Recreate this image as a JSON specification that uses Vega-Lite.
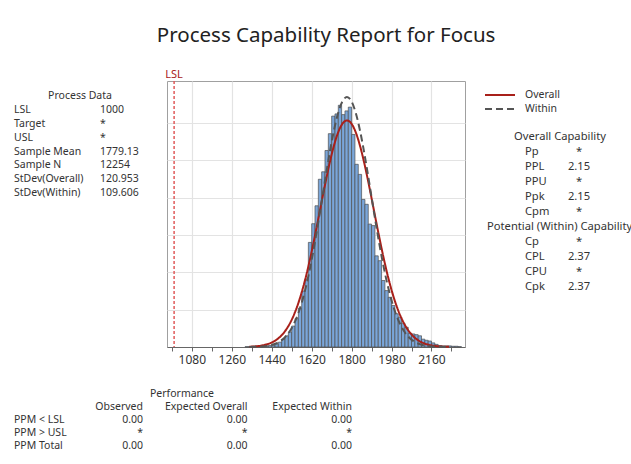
{
  "$schema": "https://vega.github.io/schema/vega-lite/v6.json",
  "background": "white",
  "padding": {"top": 26, "left": 0, "right": 0, "bottom": 0},
  "spacing": 0,
  "title": {"text": "Process Capability Report for Focus", "fontSize": 20.5, "font": "Noto Sans", "fontWeight": "normal", "color": "#222", "offset": 22, "anchor": "middle", "dx": 10},
  "config": {
    "view": {"stroke": null},
    "font": "Noto Sans",
    "text": {"font": "Noto Sans", "fontSize": 10.5, "color": "#333"}
  },
  "datasets": {
    "hist": [
      {"lo":1320,"hi":1335,"count":1},{"lo":1335,"hi":1350,"count":1},{"lo":1350,"hi":1365,"count":1},
      {"lo":1365,"hi":1380,"count":2},{"lo":1380,"hi":1395,"count":2},{"lo":1395,"hi":1410,"count":3},
      {"lo":1410,"hi":1425,"count":3},{"lo":1425,"hi":1440,"count":4},{"lo":1440,"hi":1455,"count":5},
      {"lo":1455,"hi":1470,"count":8},{"lo":1470,"hi":1485,"count":13},{"lo":1485,"hi":1500,"count":21},
      {"lo":1500,"hi":1515,"count":30},{"lo":1515,"hi":1530,"count":40},{"lo":1530,"hi":1545,"count":56},
      {"lo":1545,"hi":1560,"count":76},{"lo":1560,"hi":1575,"count":104},{"lo":1575,"hi":1590,"count":150},
      {"lo":1590,"hi":1605,"count":182},{"lo":1605,"hi":1620,"count":280},{"lo":1620,"hi":1635,"count":330},
      {"lo":1635,"hi":1650,"count":378},{"lo":1650,"hi":1665,"count":449},{"lo":1665,"hi":1680,"count":469},
      {"lo":1680,"hi":1695,"count":526},{"lo":1695,"hi":1710,"count":571},{"lo":1710,"hi":1725,"count":618},
      {"lo":1725,"hi":1740,"count":624},{"lo":1740,"hi":1755,"count":647},{"lo":1755,"hi":1770,"count":622},
      {"lo":1770,"hi":1785,"count":632},{"lo":1785,"hi":1800,"count":642},{"lo":1800,"hi":1815,"count":569},
      {"lo":1815,"hi":1830,"count":489},{"lo":1830,"hi":1845,"count":462},{"lo":1845,"hi":1860,"count":395},
      {"lo":1860,"hi":1875,"count":382},{"lo":1875,"hi":1890,"count":329},{"lo":1890,"hi":1905,"count":325},
      {"lo":1905,"hi":1920,"count":244},{"lo":1920,"hi":1935,"count":231},{"lo":1935,"hi":1950,"count":178},
      {"lo":1950,"hi":1965,"count":151},{"lo":1965,"hi":1980,"count":133},{"lo":1980,"hi":1995,"count":111},
      {"lo":1995,"hi":2010,"count":89},{"lo":2010,"hi":2025,"count":80},{"lo":2025,"hi":2040,"count":64},
      {"lo":2040,"hi":2055,"count":53},{"lo":2055,"hi":2070,"count":37},{"lo":2070,"hi":2085,"count":35},
      {"lo":2085,"hi":2100,"count":33},{"lo":2100,"hi":2115,"count":30},{"lo":2115,"hi":2130,"count":21},
      {"lo":2130,"hi":2145,"count":18},{"lo":2145,"hi":2160,"count":16},{"lo":2160,"hi":2175,"count":11},
      {"lo":2175,"hi":2190,"count":7},{"lo":2190,"hi":2205,"count":4},{"lo":2205,"hi":2220,"count":3},
      {"lo":2220,"hi":2235,"count":3},{"lo":2235,"hi":2250,"count":3},{"lo":2250,"hi":2265,"count":2},
      {"lo":2265,"hi":2280,"count":2},{"lo":2280,"hi":2295,"count":1}
    ],
    "curves": [
      {"x":1339,"Overall":0.8,"Within":0.2},{"x":1359,"Overall":1.5,"Within":0.4},{"x":1379,"Overall":2.6,"Within":0.9},
      {"x":1399,"Overall":4.4,"Within":1.6},{"x":1419,"Overall":7.2,"Within":3.0},{"x":1439,"Overall":11.7,"Within":5.4},
      {"x":1459,"Overall":18.3,"Within":9.4},{"x":1479,"Overall":28.0,"Within":15.8},{"x":1499,"Overall":41.6,"Within":25.6},
      {"x":1519,"Overall":60.2,"Within":40.1},{"x":1539,"Overall":84.7,"Within":60.9},{"x":1559,"Overall":115.9,"Within":89.2},
      {"x":1579,"Overall":154.5,"Within":126.6},{"x":1599,"Overall":200.3,"Within":173.7},{"x":1619,"Overall":252.8,"Within":230.5},
      {"x":1639,"Overall":310.3,"Within":295.9},{"x":1659,"Overall":370.6,"Within":367.4},{"x":1679,"Overall":430.8,"Within":441.2},
      {"x":1699,"Overall":487.2,"Within":512.6},{"x":1719,"Overall":536.1,"Within":575.9},{"x":1739,"Overall":574.0,"Within":625.9},
      {"x":1759,"Overall":598.1,"Within":658.0},{"x":1779,"Overall":606.3,"Within":669.0},{"x":1799,"Overall":598.1,"Within":658.0},
      {"x":1819,"Overall":574.0,"Within":625.9},{"x":1839,"Overall":536.1,"Within":575.9},{"x":1859,"Overall":487.2,"Within":512.6},
      {"x":1879,"Overall":430.8,"Within":441.2},{"x":1899,"Overall":370.6,"Within":367.4},{"x":1919,"Overall":310.3,"Within":295.9},
      {"x":1939,"Overall":252.8,"Within":230.5},{"x":1959,"Overall":200.3,"Within":173.7},{"x":1979,"Overall":154.5,"Within":126.6},
      {"x":1999,"Overall":115.9,"Within":89.2},{"x":2019,"Overall":84.7,"Within":60.9},{"x":2039,"Overall":60.2,"Within":40.1},
      {"x":2059,"Overall":41.6,"Within":25.6},{"x":2079,"Overall":28.0,"Within":15.8},{"x":2099,"Overall":18.3,"Within":9.4},
      {"x":2119,"Overall":11.7,"Within":5.4},{"x":2139,"Overall":7.2,"Within":3.0},{"x":2159,"Overall":4.4,"Within":1.6},
      {"x":2179,"Overall":2.6,"Within":0.9},{"x":2199,"Overall":1.5,"Within":0.4},{"x":2219,"Overall":0.8,"Within":0.2},
      {"x":2239,"Overall":0.4,"Within":0.1}
    ],
    "limits": [{"name":"LSL","value":1000}],
    "processData": [
      {"row":0,"col":"head","text":"Process Data"},
      {"row":1,"col":"label","text":"LSL"},{"row":1,"col":"value","text":"1000"},
      {"row":2,"col":"label","text":"Target"},{"row":2,"col":"value","text":"*"},
      {"row":3,"col":"label","text":"USL"},{"row":3,"col":"value","text":"*"},
      {"row":4,"col":"label","text":"Sample Mean"},{"row":4,"col":"value","text":"1779.13"},
      {"row":5,"col":"label","text":"Sample N"},{"row":5,"col":"value","text":"12254"},
      {"row":6,"col":"label","text":"StDev(Overall)"},{"row":6,"col":"value","text":"120.953"},
      {"row":7,"col":"label","text":"StDev(Within)"},{"row":7,"col":"value","text":"109.606"}
    ],
    "capability": [
      {"row":0,"col":"head","text":"Overall Capability"},
      {"row":1,"col":"label","text":"Pp"},{"row":1,"col":"value","text":"*"},
      {"row":2,"col":"label","text":"PPL"},{"row":2,"col":"value","text":"2.15"},
      {"row":3,"col":"label","text":"PPU"},{"row":3,"col":"value","text":"*"},
      {"row":4,"col":"label","text":"Ppk"},{"row":4,"col":"value","text":"2.15"},
      {"row":5,"col":"label","text":"Cpm"},{"row":5,"col":"value","text":"*"},
      {"row":6,"col":"head2","text":"Potential (Within) Capability"},
      {"row":7,"col":"label","text":"Cp"},{"row":7,"col":"value","text":"*"},
      {"row":8,"col":"label","text":"CPL"},{"row":8,"col":"value","text":"2.37"},
      {"row":9,"col":"label","text":"CPU"},{"row":9,"col":"value","text":"*"},
      {"row":10,"col":"label","text":"Cpk"},{"row":10,"col":"value","text":"2.37"}
    ],
    "performance": [
      {"row":0,"col":"perf","text":"Performance"},
      {"row":1,"col":"obs","text":"Observed"},{"row":1,"col":"eo","text":"Expected Overall"},{"row":1,"col":"ew","text":"Expected Within"},
      {"row":2,"col":"label","text":"PPM < LSL"},{"row":2,"col":"obs","text":"0.00"},{"row":2,"col":"eo","text":"0.00"},{"row":2,"col":"ew","text":"0.00"},
      {"row":3,"col":"label","text":"PPM > USL"},{"row":3,"col":"obs","text":"*"},{"row":3,"col":"eo","text":"*"},{"row":3,"col":"ew","text":"*"},
      {"row":4,"col":"label","text":"PPM Total"},{"row":4,"col":"obs","text":"0.00"},{"row":4,"col":"eo","text":"0.00"},{"row":4,"col":"ew","text":"0.00"}
    ]
  },
  "vconcat": [
    {
      "bounds": "flush",
      "spacing": 0,
      "hconcat": [
        {
          "width": 167, "height": 266,
          "data": {"name": "processData"},
          "encoding": {
            "y": {"field": "row", "type": "quantitative", "scale": {"domain": [-1.079, 18.06], "reverse": true, "nice": false, "zero": false}, "axis": null},
            "text": {"field": "text"}
          },
          "layer": [
            {"transform": [{"filter": "datum.col === 'head'"}],
             "mark": {"type": "text", "align": "center", "baseline": "middle"},
             "encoding": {"x": {"field": "col", "type": "nominal", "scale": {"type": "point", "domain": ["head"], "range": [60, 100], "padding": 0}, "axis": null}}},
            {"transform": [{"filter": "datum.col !== 'head'"}],
             "mark": {"type": "text", "align": "left", "baseline": "middle"},
             "encoding": {"x": {"field": "col", "type": "nominal", "scale": {"type": "point", "domain": ["label", "value"], "range": [14, 100], "padding": 0}, "axis": null}}}
          ],
          "resolve": {"scale": {"x": "independent"}}
        },
        {
          "width": 298, "height": 266,
          "view": {"stroke": "#a0a0a0", "strokeWidth": 1},
          "resolve": {"axis": {"x": "independent"}},
          "layer": [
            {
              "data": {"name": "hist"},
              "mark": {"type": "bar", "fill": "#7aa6da", "stroke": "#4f4f4f", "strokeWidth": 0.7},
              "encoding": {
                "x": {"field": "lo", "type": "quantitative",
                      "scale": {"domain": [968, 2311], "nice": false, "zero": false},
                      "axis": {"title": null, "orient": "bottom", "values": [1080,1260,1440,1620,1800,1980,2160],
                               "format": "d", "labelOverlap": false,
                               "grid": true, "gridColor": "#e3e3e3", "gridWidth": 1.2,
                               "domainColor": "#666", "tickColor": "#666", "tickSize": 4,
                               "labelFont": "Noto Sans", "labelFontSize": 12, "labelColor": "#333", "labelPadding": 3}},
                "x2": {"field": "hi"},
                "y": {"field": "count", "type": "quantitative",
                      "scale": {"domain": [0, 712], "nice": false, "zero": true},
                      "axis": {"title": null, "labels": false, "ticks": false, "domain": false, "grid": true, "gridColor": "#e3e3e3", "gridWidth": 1.2, "values": [100,200,300,400,500,600]}},
                "y2": {"datum": 0}
              }
            },
            {
              "data": {"name": "curves"},
              "transform": [{"fold": ["Overall", "Within"], "as": ["series", "density"]}],
              "mark": {"type": "line", "strokeWidth": 2, "interpolate": "monotone"},
              "encoding": {
                "x": {"field": "x", "type": "quantitative", "axis": null},
                "y": {"field": "density", "type": "quantitative"},
                "color": {"field": "series", "type": "nominal",
                          "scale": {"domain": ["Overall", "Within"], "range": ["#a8201a", "#555555"]},
                          "legend": {"title": null, "orient": "none", "legendX": 493, "legendY": 7, "symbolType": "M-2.5,0H2.5", "symbolSize": 144, "symbolStrokeWidth": 2, "labelFont": "Noto Sans", "labelFontSize": 10.5, "labelColor": "#333", "labelOffset": 18, "rowPadding": 1}},
                "strokeDash": {"field": "series", "type": "nominal",
                               "scale": {"domain": ["Overall", "Within"], "range": [[1, 0], [7, 4]]},
                               "legend": {"title": null, "orient": "none", "legendX": 493, "legendY": 7, "symbolType": "M-2.5,0H2.5", "symbolSize": 144, "symbolStrokeWidth": 2, "labelFont": "Noto Sans", "labelFontSize": 10.5, "labelColor": "#333", "labelOffset": 18, "rowPadding": 1}}
              }
            },
            {
              "data": {"name": "limits"},
              "mark": {"type": "rule", "color": "#e05a5a", "strokeWidth": 1.5, "strokeDash": [3, 2]},
              "encoding": {"x": {"field": "value", "type": "quantitative",
                                 "axis": {"title": null, "orient": "bottom", "values": [990,1170,1350,1530,1710,1890,2070,2250],
                                          "labels": false, "grid": false, "domain": false, "tickColor": "#666", "tickSize": 4}}}
            },
            {
              "data": {"name": "limits"},
              "mark": {"type": "text", "color": "#a8201a", "fontSize": 11, "baseline": "alphabetic", "align": "center", "dy": -3},
              "encoding": {
                "x": {"field": "value", "type": "quantitative", "axis": null},
                "y": {"datum": 712, "type": "quantitative"},
                "text": {"field": "name"}
              }
            }
          ]
        },
        {
          "width": 166, "height": 266,
          "data": {"name": "capability"},
          "encoding": {
            "y": {"field": "row", "type": "quantitative", "scale": {"domain": [-3.733, 14.0], "reverse": true, "nice": false, "zero": false}, "axis": null},
            "text": {"field": "text"}
          },
          "layer": [
            {"transform": [{"filter": "datum.col === 'head'"}],
             "mark": {"type": "text", "align": "center", "baseline": "middle", "fontSize": 11.2},
             "encoding": {"x": {"field": "col", "type": "nominal", "scale": {"type": "point", "domain": ["head"], "range": [85, 105], "padding": 0}, "axis": null}}},
            {"transform": [{"filter": "datum.col === 'head2' || datum.col === 'label'"}],
             "mark": {"type": "text", "align": "left", "baseline": "middle", "fontSize": 11.2},
             "encoding": {"x": {"field": "col", "type": "nominal", "scale": {"type": "point", "domain": ["head2", "label"], "range": [22, 60], "padding": 0}, "axis": null}}},
            {"transform": [{"filter": "datum.col === 'value'"}],
             "mark": {"type": "text", "align": "center", "baseline": "middle", "fontSize": 11.2},
             "encoding": {"x": {"field": "col", "type": "nominal", "scale": {"type": "point", "domain": ["value"], "range": [104, 124], "padding": 0}, "axis": null}}}
          ],
          "resolve": {"scale": {"x": "independent"}}
        }
      ]
    },
    {
      "width": 631, "height": 95,
      "data": {"name": "performance"},
      "encoding": {
        "y": {"field": "row", "type": "quantitative", "scale": {"domain": [-2.154, 5.154], "reverse": true, "nice": false, "zero": false}, "axis": null},
        "text": {"field": "text"}
      },
      "layer": [
        {"transform": [{"filter": "datum.col === 'perf'"}],
         "mark": {"type": "text", "align": "center", "baseline": "middle"},
         "encoding": {"x": {"field": "col", "type": "nominal", "scale": {"type": "point", "domain": ["perf"], "range": [172, 192], "padding": 0}, "axis": null}}},
        {"transform": [{"filter": "datum.col === 'label'"}],
         "mark": {"type": "text", "align": "left", "baseline": "middle"},
         "encoding": {"x": {"field": "col", "type": "nominal", "scale": {"type": "point", "domain": ["label"], "range": [4, 24], "padding": 0}, "axis": null}}},
        {"transform": [{"filter": "datum.col === 'obs' || datum.col === 'eo' || datum.col === 'ew'"}],
         "mark": {"type": "text", "align": "right", "baseline": "middle"},
         "encoding": {"x": {"field": "col", "type": "nominal", "scale": {"type": "point", "domain": ["obs", "eo", "ew"], "range": [143, 352], "padding": 0}, "axis": null}}}
      ],
      "resolve": {"scale": {"x": "independent"}}
    }
  ]
}
